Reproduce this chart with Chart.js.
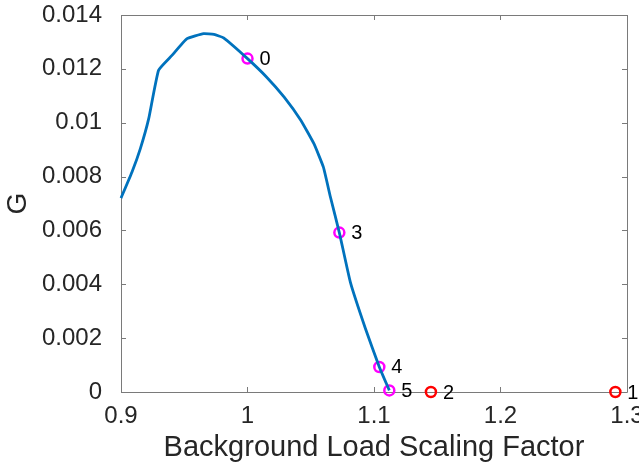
<!DOCTYPE html>
<html>
<head>
<meta charset="utf-8">
<script src="https://cdn.jsdelivr.net/npm/chart.js@4/dist/chart.umd.min.js"></script>
<style>
  html, body { margin: 0; padding: 0; background: #fff; }
  #wrap { width: 639px; height: 465px; }
</style>
</head>
<body>
<div id="wrap"><canvas id="chart"></canvas></div>
<script>
// curve G vs background load scaling factor
const curveX = [0.9, 0.9087, 0.9153, 0.9219, 0.9297, 0.9403, 0.9522, 0.9653, 0.9735, 0.9811, 1.0,
                1.015, 1.029, 1.042, 1.0525, 1.06, 1.0655, 1.0726, 1.0813, 1.0932, 1.1042, 1.1121];
const curveY = [0.0072, 0.00817, 0.00904, 0.01015, 0.01195, 0.0125, 0.01312, 0.01331, 0.01328, 0.01315, 0.01238,
                0.0117, 0.01095, 0.0101, 0.00922, 0.00835, 0.00725, 0.00592, 0.00408, 0.00236, 0.00093, 0.00006];

// labelled points (magenta = on curve, red = off curve)
const onX = [1.0, 1.0726, 1.1042, 1.1121];
const onY = [0.01238, 0.00592, 0.00093, 0.00006];
const onLabels = ['0', '3', '4', '5'];
const offX = [1.145, 1.2908];
const offY = [0, 0];
const offLabels = ['2', '1'];

const xTicks = [0.9, 1, 1.1, 1.2, 1.3];
const yTicks = [0, 0.002, 0.004, 0.006, 0.008, 0.01, 0.012, 0.014];

const FONT = '"Liberation Sans", Arial, Helvetica, sans-serif';
const AXIS = '#262626';

const toPts = (xs, ys) => xs.map((x, i) => ({ x: x, y: ys[i] }));

// MATLAB-like box with inward ticks, plus the point numbers
const boxPlugin = {
  id: 'box',
  beforeDatasetsDraw(chart) {
    const { ctx, chartArea: a, scales } = chart;
    const len = 5;
    ctx.save();
    ctx.strokeStyle = '#7a7a7a';
    ctx.lineWidth = 1;
    ctx.beginPath();
    ctx.rect(Math.round(a.left) + 0.5, Math.round(a.top) + 0.5,
             Math.round(a.right - a.left), Math.round(a.bottom - a.top));
    xTicks.forEach(v => {
      const px = Math.round(scales.x.getPixelForValue(v)) + 0.5;
      ctx.moveTo(px, a.bottom); ctx.lineTo(px, a.bottom - len);
      ctx.moveTo(px, a.top); ctx.lineTo(px, a.top + len);
    });
    yTicks.forEach(v => {
      const py = Math.round(scales.y.getPixelForValue(v)) + 0.5;
      ctx.moveTo(a.left, py); ctx.lineTo(a.left + len, py);
      ctx.moveTo(a.right, py); ctx.lineTo(a.right - len, py);
    });
    ctx.stroke();
    ctx.restore();
  },
  afterDatasetsDraw(chart) {
    const { ctx } = chart;
    ctx.save();
    ctx.fillStyle = '#000';
    ctx.font = '20px ' + FONT;
    ctx.textBaseline = 'middle';
    ctx.textAlign = 'left';
    [[1, onLabels], [2, offLabels]].forEach(([di, labels]) => {
      chart.getDatasetMeta(di).data.forEach((pt, i) => {
        ctx.fillText(labels[i], pt.x + 12, pt.y + 1);
      });
    });
    ctx.restore();
  }
};

new Chart(document.getElementById('chart'), {
  type: 'scatter',
  data: {
    datasets: [
      {
        data: toPts(curveX, curveY),
        showLine: true,
        borderColor: '#0072BD',
        borderWidth: 2.8,
        pointRadius: 0,
        tension: 0.12,
        clip: false
      },
      {
        data: toPts(onX, onY),
        pointStyle: 'circle',
        pointRadius: 5,
        pointBorderWidth: 2.5,
        pointBorderColor: '#FF00FF',
        pointBackgroundColor: 'rgba(0,0,0,0)',
        clip: false
      },
      {
        data: toPts(offX, offY),
        pointStyle: 'circle',
        pointRadius: 5,
        pointBorderWidth: 2.5,
        pointBorderColor: '#FF0000',
        pointBackgroundColor: 'rgba(0,0,0,0)',
        clip: false
      }
    ]
  },
  options: {
    responsive: true,
    maintainAspectRatio: false,
    animation: false,
    layout: { padding: { left: 0, right: 12, top: 15, bottom: 0 } },
    plugins: { legend: { display: false }, tooltip: { enabled: false } },
    scales: {
      x: {
        type: 'linear',
        min: 0.9,
        max: 1.3,
        grid: { display: false, drawTicks: false },
        border: { display: false },
        afterBuildTicks: s => { s.ticks = xTicks.map(v => ({ value: v })); },
        afterFit: s => { s.height = 73; s.paddingLeft = 0; s.paddingRight = 0; },
        ticks: {
          color: AXIS,
          padding: 10,
          maxRotation: 0,
          font: { family: FONT, size: 24 },
          callback: v => String(v)
        },
        title: {
          display: true,
          text: 'Background Load Scaling Factor',
          color: AXIS,
          font: { family: FONT, size: 29 },
          padding: { top: 0, bottom: 0 }
        }
      },
      y: {
        type: 'linear',
        min: 0,
        max: 0.014,
        grid: { display: false, drawTicks: false },
        border: { display: false },
        afterBuildTicks: s => { s.ticks = yTicks.map(v => ({ value: v })); },
        afterFit: s => { s.width = 121; s.paddingTop = 0; s.paddingBottom = 0; },
        ticks: {
          color: AXIS,
          padding: 19,
          font: { family: FONT, size: 24 },
          callback: v => String(v)
        },
        title: {
          display: true,
          text: 'G',
          color: AXIS,
          font: { family: FONT, size: 28 },
          padding: { top: 1, bottom: 0 }
        }
      }
    }
  },
  plugins: [boxPlugin]
});
</script>
</body>
</html>
